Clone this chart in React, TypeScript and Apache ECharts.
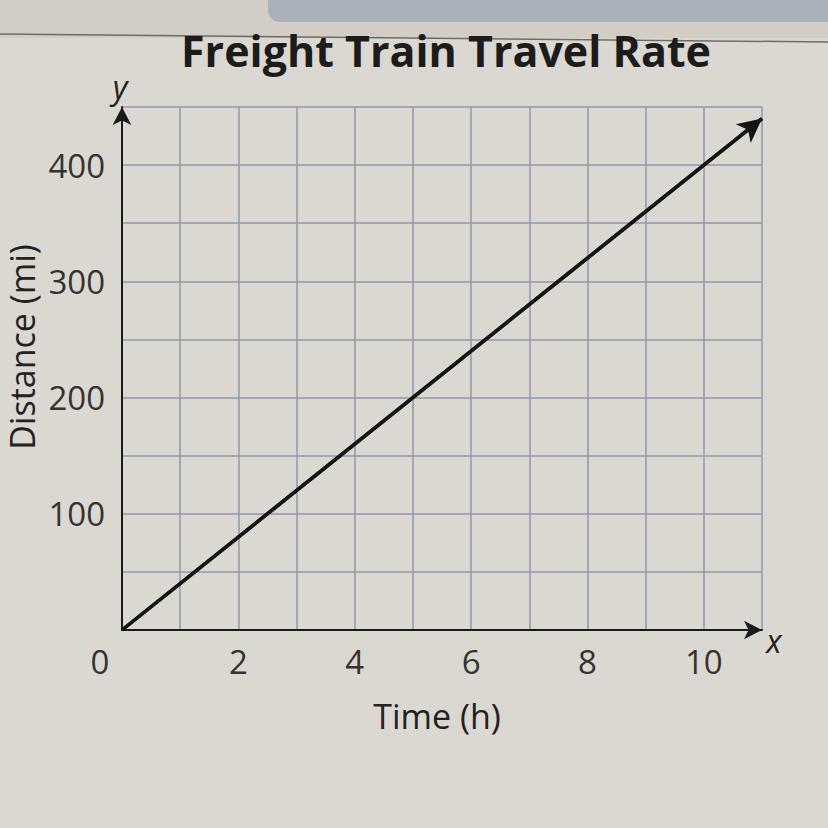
import React, { useEffect, useRef } from "react";
import * as echarts from "echarts";

const times = [0, 11];
const distances = [0, 440];
const xTickLabels = [0, 2, 4, 6, 8, 10];
const yTickLabels = [100, 200, 300, 400];
const titleText = "Freight Train Travel Rate";
const xName = "Time (h)";
const yName = "Distance (mi)";

export default function App() {
  const ref = useRef<HTMLDivElement>(null);
  useEffect(() => {
    const chart = echarts.init(ref.current!, null, { renderer: "svg" });
    const font = "'Open Sans', 'Noto Sans', sans-serif";
    const ink = "#222222";
    chart.setOption({
      animation: false,
      backgroundColor: "#dbd8d1",
      graphic: [
        { type: "rect", shape: { x: 0, y: 0, width: 828, height: 38 }, style: { fill: "#d2cec6" }, z: -1 },
        { type: "rect", shape: { x: 268, y: -20, width: 600, height: 42, r: 12 }, style: { fill: "#a9b0bc" } },
        { type: "line", shape: { x1: 0, y1: 34, x2: 828, y2: 42 }, style: { stroke: "#6f6c68", lineWidth: 1.5 } },
        { type: "text", x: 446, y: 50, style: { text: titleText, align: "center", verticalAlign: "middle", font: `bold 43px ${font}`, fill: "#1c1c1c" } },
        { type: "text", x: 120, y: 86, style: { text: "y", align: "center", verticalAlign: "middle", font: `italic 32px ${font}`, fill: ink } },
        { type: "text", x: 774, y: 640, style: { text: "x", align: "center", verticalAlign: "middle", font: `italic 32px ${font}`, fill: ink } },
        { type: "text", x: 437, y: 716, style: { text: xName, align: "center", verticalAlign: "middle", font: `34px ${font}`, fill: ink } },
        { type: "text", x: 22, y: 347, rotation: Math.PI / 2, style: { text: yName, align: "center", verticalAlign: "middle", font: `34px ${font}`, fill: ink } },
      ],
      grid: { left: 122, right: 66, top: 107, bottom: 198, containLabel: false },
      xAxis: {
        type: "value",
        min: 0,
        max: 11,
        interval: 1,
        axisLine: { show: true, onZero: false, symbol: ["none", "arrow"], symbolSize: [14, 18], lineStyle: { color: "#1a1a1a", width: 2 } },
        axisTick: { show: false },
        splitLine: { show: true, lineStyle: { color: "#9497ad", width: 1.5 } },
        axisLabel: {
          margin: 15,
          fontSize: 33,
          fontFamily: font,
          color: "#333",
          showMaxLabel: true,
          formatter: (v: number) => (xTickLabels.includes(v) ? (v === 0 ? "{z|0}" : String(v)) : ""),
          rich: { z: { fontSize: 33, fontFamily: font, color: "#333", padding: [0, 44, 0, 0] } },
        },
      },
      yAxis: {
        type: "value",
        min: 0,
        max: 450,
        interval: 50,
        axisLine: { show: true, onZero: false, symbol: ["none", "arrow"], symbolSize: [14, 18], lineStyle: { color: "#1a1a1a", width: 2 } },
        axisTick: { show: false },
        splitLine: { show: true, lineStyle: { color: "#9497ad", width: 1.5 } },
        axisLabel: {
          margin: 17,
          fontSize: 33,
          fontFamily: font,
          color: "#333",
          formatter: (v: number) => (yTickLabels.includes(v) ? String(v) : ""),
        },
      },
      series: [
        {
          type: "line",
          data: times.map((t, i) => [t, distances[i]]),
          symbol: "none",
          lineStyle: { color: "#151515", width: 3.5 },
          z: 5,
          markLine: {
            silent: true,
            symbol: ["none", "arrow"],
            symbolSize: [18, 24],
            label: { show: false },
            lineStyle: { color: "#151515", width: 3.5, type: "solid" },
            data: [[{ coord: [times[0], distances[0]] }, { coord: [times[1], distances[1]] }]],
          },
        },
      ],
    });
    return () => chart.dispose();
  }, []);
  return <div ref={ref} style={{ position: "absolute", left: 0, top: 0, width: 828, height: 828 }} />;
}
